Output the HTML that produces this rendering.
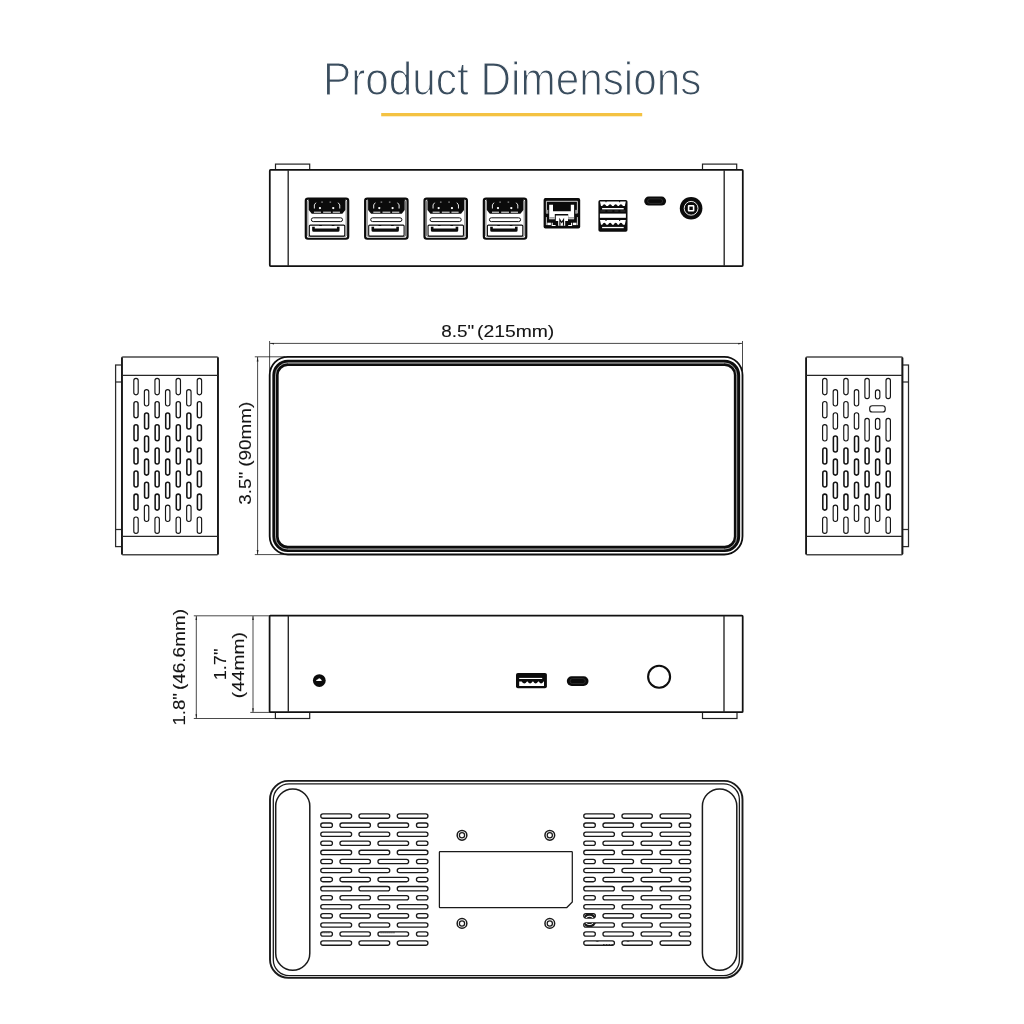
<!DOCTYPE html>
<html><head><meta charset="utf-8"><title>Product Dimensions</title>
<style>
html,body{margin:0;padding:0;background:#fff;}
body{width:1024px;height:1024px;overflow:hidden;font-family:"Liberation Sans",sans-serif;}
svg{display:block;position:absolute;left:0;top:0;will-change:transform;}
text{font-family:"Liberation Sans",sans-serif;}
</style></head><body>
<svg width="1024" height="1024" viewBox="0 0 1024 1024">
<rect width="1024" height="1024" fill="#fff"/>

<!-- title -->
<text id="title" x="323" y="94.6" font-size="45.4" fill="#3a4d5e" stroke="#fff" stroke-width="1.2" textLength="378.4" lengthAdjust="spacingAndGlyphs">Product Dimensions</text>
<rect x="381.2" y="113" width="261" height="3.3" fill="#f4c242"/>
<!-- rear view -->
<g fill="none" stroke="#111" stroke-width="1.6">
<rect x="275.5" y="164.1" width="34.2" height="6" fill="#fff" stroke="#222" stroke-width="1.2"/>
<rect x="702.5" y="164.1" width="34.2" height="6" fill="#fff" stroke="#222" stroke-width="1.2"/>
<rect x="269.8" y="169.9" width="473" height="96.2" rx="0.8" fill="#fff" stroke-width="1.75"/>
<line x1="288.2" y1="169.9" x2="288.2" y2="266.1" stroke="#2a2a2a" stroke-width="1.4"/>
<line x1="724.2" y1="169.9" x2="724.2" y2="266.1" stroke="#2a2a2a" stroke-width="1.4"/>
</g>
<g transform="translate(304.75,197.5)"><rect x="1.05" y="1.05" width="42.4" height="40.2" rx="2.2" fill="#fff" stroke="#0b0b0b" stroke-width="2.2"/><rect x="3.1" y="3" width="38.3" height="35.8" rx="0.8" fill="none" stroke="#0b0b0b" stroke-width="0.55"/><path d="M4 0.6 H40.6 V12.6 L37.6 16.2 H7 L4 12.6 Z" fill="#0b0b0b"/><path d="M9.6 11 V7.4 L11.2 5.2" fill="none" stroke="#fff" stroke-width="0.9"/><path d="M35 11 V7.4 L33.4 5.2" fill="none" stroke="#fff" stroke-width="0.9"/><path d="M16.5 4.6 h1.6 M24.8 4.6 h1.6" stroke="#bbb" stroke-width="0.9"/><path d="M9.2 14.7 H16.2 M18.4 14.7 H26.2 M28 14.7 H35.2" stroke="#fff" stroke-width="1"/><circle cx="15.2" cy="10.6" r="1.15" fill="#fff"/><circle cx="28.5" cy="10.6" r="1.15" fill="#fff"/><rect x="6.6" y="20.3" width="31.2" height="3.8" rx="1.9" fill="#fff" stroke="#0b0b0b" stroke-width="1"/><rect x="4.6" y="27.6" width="35.4" height="11" rx="1" fill="#fff" stroke="#0b0b0b" stroke-width="1.1"/><path d="M7.4 29.2 H10 V31 H32.2 V29.2 H34.8 V32.8 Q34.8 34.3 33.3 34.3 H8.9 Q7.4 34.3 7.4 32.8 Z" fill="#0b0b0b"/><path d="M14.5 28 h2.6 M27 28 h2.6" stroke="#0b0b0b" stroke-width="1"/></g>
<g transform="translate(364.10,197.5)"><rect x="1.05" y="1.05" width="42.4" height="40.2" rx="2.2" fill="#fff" stroke="#0b0b0b" stroke-width="2.2"/><rect x="3.1" y="3" width="38.3" height="35.8" rx="0.8" fill="none" stroke="#0b0b0b" stroke-width="0.55"/><path d="M4 0.6 H40.6 V12.6 L37.6 16.2 H7 L4 12.6 Z" fill="#0b0b0b"/><path d="M9.6 11 V7.4 L11.2 5.2" fill="none" stroke="#fff" stroke-width="0.9"/><path d="M35 11 V7.4 L33.4 5.2" fill="none" stroke="#fff" stroke-width="0.9"/><path d="M16.5 4.6 h1.6 M24.8 4.6 h1.6" stroke="#bbb" stroke-width="0.9"/><path d="M9.2 14.7 H16.2 M18.4 14.7 H26.2 M28 14.7 H35.2" stroke="#fff" stroke-width="1"/><circle cx="15.2" cy="10.6" r="1.15" fill="#fff"/><circle cx="28.5" cy="10.6" r="1.15" fill="#fff"/><rect x="6.6" y="20.3" width="31.2" height="3.8" rx="1.9" fill="#fff" stroke="#0b0b0b" stroke-width="1"/><rect x="4.6" y="27.6" width="35.4" height="11" rx="1" fill="#fff" stroke="#0b0b0b" stroke-width="1.1"/><path d="M7.4 29.2 H10 V31 H32.2 V29.2 H34.8 V32.8 Q34.8 34.3 33.3 34.3 H8.9 Q7.4 34.3 7.4 32.8 Z" fill="#0b0b0b"/><path d="M14.5 28 h2.6 M27 28 h2.6" stroke="#0b0b0b" stroke-width="1"/></g>
<g transform="translate(423.45,197.5)"><rect x="1.05" y="1.05" width="42.4" height="40.2" rx="2.2" fill="#fff" stroke="#0b0b0b" stroke-width="2.2"/><rect x="3.1" y="3" width="38.3" height="35.8" rx="0.8" fill="none" stroke="#0b0b0b" stroke-width="0.55"/><path d="M4 0.6 H40.6 V12.6 L37.6 16.2 H7 L4 12.6 Z" fill="#0b0b0b"/><path d="M9.6 11 V7.4 L11.2 5.2" fill="none" stroke="#fff" stroke-width="0.9"/><path d="M35 11 V7.4 L33.4 5.2" fill="none" stroke="#fff" stroke-width="0.9"/><path d="M16.5 4.6 h1.6 M24.8 4.6 h1.6" stroke="#bbb" stroke-width="0.9"/><path d="M9.2 14.7 H16.2 M18.4 14.7 H26.2 M28 14.7 H35.2" stroke="#fff" stroke-width="1"/><circle cx="15.2" cy="10.6" r="1.15" fill="#fff"/><circle cx="28.5" cy="10.6" r="1.15" fill="#fff"/><rect x="6.6" y="20.3" width="31.2" height="3.8" rx="1.9" fill="#fff" stroke="#0b0b0b" stroke-width="1"/><rect x="4.6" y="27.6" width="35.4" height="11" rx="1" fill="#fff" stroke="#0b0b0b" stroke-width="1.1"/><path d="M7.4 29.2 H10 V31 H32.2 V29.2 H34.8 V32.8 Q34.8 34.3 33.3 34.3 H8.9 Q7.4 34.3 7.4 32.8 Z" fill="#0b0b0b"/><path d="M14.5 28 h2.6 M27 28 h2.6" stroke="#0b0b0b" stroke-width="1"/></g>
<g transform="translate(482.80,197.5)"><rect x="1.05" y="1.05" width="42.4" height="40.2" rx="2.2" fill="#fff" stroke="#0b0b0b" stroke-width="2.2"/><rect x="3.1" y="3" width="38.3" height="35.8" rx="0.8" fill="none" stroke="#0b0b0b" stroke-width="0.55"/><path d="M4 0.6 H40.6 V12.6 L37.6 16.2 H7 L4 12.6 Z" fill="#0b0b0b"/><path d="M9.6 11 V7.4 L11.2 5.2" fill="none" stroke="#fff" stroke-width="0.9"/><path d="M35 11 V7.4 L33.4 5.2" fill="none" stroke="#fff" stroke-width="0.9"/><path d="M16.5 4.6 h1.6 M24.8 4.6 h1.6" stroke="#bbb" stroke-width="0.9"/><path d="M9.2 14.7 H16.2 M18.4 14.7 H26.2 M28 14.7 H35.2" stroke="#fff" stroke-width="1"/><circle cx="15.2" cy="10.6" r="1.15" fill="#fff"/><circle cx="28.5" cy="10.6" r="1.15" fill="#fff"/><rect x="6.6" y="20.3" width="31.2" height="3.8" rx="1.9" fill="#fff" stroke="#0b0b0b" stroke-width="1"/><rect x="4.6" y="27.6" width="35.4" height="11" rx="1" fill="#fff" stroke="#0b0b0b" stroke-width="1.1"/><path d="M7.4 29.2 H10 V31 H32.2 V29.2 H34.8 V32.8 Q34.8 34.3 33.3 34.3 H8.9 Q7.4 34.3 7.4 32.8 Z" fill="#0b0b0b"/><path d="M14.5 28 h2.6 M27 28 h2.6" stroke="#0b0b0b" stroke-width="1"/></g>
<g transform="translate(543.6,198.1)">
<rect x="0" y="0" width="36.6" height="30.5" rx="1.8" fill="#0b0b0b"/>
<path d="M2.8 15 V3.2 H33.8 V15" fill="none" stroke="#fff" stroke-width="0.8"/>
<path d="M2.8 19 V27" fill="none" stroke="#fff" stroke-width="0.8"/><path d="M33.8 19 V27" fill="none" stroke="#fff" stroke-width="0.8"/>
<path d="M5.6 6.6 H9.4 V13.2 H27.2 V6.6 H30.5 V21.2 H24.6 V16 H11.2 V21.2 H5.6 Z" fill="#fff"/>
<rect x="5.6" y="19" width="5.6" height="1.5" fill="#999"/><rect x="24.6" y="19" width="5.9" height="1.5" fill="#999"/>
<rect x="2.4" y="11.8" width="2.3" height="3.8" fill="#999"/><rect x="31.6" y="11.8" width="2.3" height="3.8" fill="#999"/>
<path d="M12.2 17.4 H24.4 V23 H21.6 V27.6 H14.6 V23 H12.2 Z" fill="#fff"/>
<path d="M16.3 27.6 V21.6 L18.1 24.4 L19.9 21.6 V27.6" fill="none" stroke="#0b0b0b" stroke-width="1.2"/>
<rect x="3.7" y="24.6" width="3.6" height="2.4" fill="#fff"/><rect x="29.3" y="24.6" width="3.6" height="2.4" fill="#fff"/>
<path d="M8.6 24.6 V27.4 H12 M28 24.6 V27.4 H24.6" fill="none" stroke="#fff" stroke-width="1.1"/>
</g>
<g transform="translate(598.4,200)">
<rect x="0" y="0" width="29.1" height="31.8" rx="1.8" fill="#0b0b0b"/>
<path d="M1.6 1.40 H27.4 L26.4 6.10 H24.60 Q22.50 2.20 20.40 6.10 H19.40 Q17.30 2.20 15.20 6.10 H13.80 Q11.70 2.20 9.60 6.10 H8.00 Q5.90 2.20 3.80 6.10 H2.6 Z" fill="#fff"/>
<rect x="7" y="1.2" width="1.2" height="1" fill="#0b0b0b"/><rect x="20.6" y="1.2" width="1.2" height="1" fill="#0b0b0b"/>
<rect x="3.7" y="8" width="21.6" height="1.4" fill="#fff"/>
<path d="M2 11 h5 M9 11 h5 M16 11 h4 M22 11 h5" stroke="#555" stroke-width="0.7"/>
<rect x="1.5" y="13.6" width="26" height="4.2" fill="#fff"/>
<path d="M1.6 20.10 H27.4 L26.4 24.80 H24.60 Q22.50 20.90 20.40 24.80 H19.40 Q17.30 20.90 15.20 24.80 H13.80 Q11.70 20.90 9.60 24.80 H8.00 Q5.90 20.90 3.80 24.80 H2.6 Z" fill="#fff"/>
<rect x="7" y="19.9" width="1.2" height="1" fill="#0b0b0b"/><rect x="20.6" y="19.9" width="1.2" height="1" fill="#0b0b0b"/>
<rect x="3.7" y="26.9" width="21.6" height="1.3" fill="#fff"/>
</g>
<rect x="644.2" y="196.6" width="21.9" height="9" rx="4.5" fill="#0b0b0b"/>
<rect x="647.6" y="198.8" width="15" height="4.6" rx="2.3" fill="none" stroke="#3a3a3a" stroke-width="0.7"/>
<circle cx="691.1" cy="208.3" r="11.3" fill="#0b0b0b"/>
<circle cx="691.1" cy="208.3" r="6.9" fill="none" stroke="#fff" stroke-width="0.9"/>
<rect x="687.8" y="205" width="6.6" height="6.6" rx="1" fill="#fff"/>
<rect x="689.4" y="206.6" width="3.4" height="3.4" fill="#0b0b0b"/>
<!-- top view -->
<rect x="269.7" y="356.9" width="472.8" height="197.6" rx="18.2" fill="#fff" stroke="#0d0d0d" stroke-width="1.8"/>
<rect x="275.5" y="362.8" width="461.5" height="186.1" rx="12.3" fill="#fff" stroke="#0d0d0d" stroke-width="6.3"/>
<rect x="275.5" y="362.9" width="461.2" height="186.2" rx="12.2" fill="none" stroke="#d8d8d8" stroke-width="0.75"/>
<path d="M288 362.95 H724 M288 549.2 H724" stroke="#7a7a7a" stroke-width="1.5" fill="none"/>
<g stroke="#1c1c1c" stroke-width="0.8" fill="#1c1c1c">
<line x1="269.6" y1="341" x2="269.6" y2="372"/>
<line x1="742.5" y1="341" x2="742.5" y2="372"/>
<line x1="270" y1="343.4" x2="742" y2="343.4"/>
<path d="M270.2 343.4 l3.8 -0.3 v1.5 z M742 343.4 l-3.8 -0.3 v1.5 z" stroke="none"/>
<line x1="254.8" y1="356.8" x2="285" y2="356.8"/>
<line x1="254.8" y1="554.6" x2="285" y2="554.6"/>
<line x1="257.6" y1="357" x2="257.6" y2="554.4"/>
<path d="M257.6 357 l-0.9 4.5 h1.8 z M257.6 554.4 l-0.9 -4.5 h1.8 z" stroke="none"/>
</g>
<text x="441.2" y="337.3" font-size="17" fill="#141414" stroke="#141414" stroke-width="0.1" textLength="33" lengthAdjust="spacingAndGlyphs">8.5"</text>
<text x="477" y="337.3" font-size="17" fill="#141414" stroke="#141414" stroke-width="0.1" textLength="77.3" lengthAdjust="spacingAndGlyphs">(215mm)</text>
<text transform="translate(251,504.8) rotate(-90)" font-size="17" fill="#141414" stroke="#141414" stroke-width="0.1" textLength="103" lengthAdjust="spacingAndGlyphs">3.5" (90mm)</text>
<!-- left side -->
<g fill="none" stroke="#151515" stroke-width="1.75"><rect x="115.60" y="365" width="6.35" height="181.6" fill="#fff" stroke="#2a2a2a" stroke-width="1.25"/><line x1="115.60" y1="382" x2="121.95" y2="382" stroke="#2a2a2a" stroke-width="1.25"/><line x1="115.60" y1="529.5" x2="121.95" y2="529.5" stroke="#2a2a2a" stroke-width="1.25"/><rect x="121.95" y="357" width="96.00" height="197.8" rx="1" fill="#fff" stroke="#4a4a4a" stroke-width="1.6"/><line x1="121.95" y1="357.6" x2="121.95" y2="554.2"/><line x1="217.95" y1="357.6" x2="217.95" y2="554.2"/><line x1="121.95" y1="375.4" x2="217.95" y2="375.4" stroke="#262626" stroke-width="1.3"/><line x1="121.95" y1="536.3" x2="217.95" y2="536.3" stroke="#262626" stroke-width="1.3"/></g>
<rect x="133.80" y="378.40" width="4.40" height="16.40" rx="2.20" fill="#fff" stroke="#141414" stroke-width="1.15"/>
<rect x="133.90" y="401.60" width="4.20" height="16.20" rx="2.10" fill="#fff" stroke="#141414" stroke-width="1.35"/>
<rect x="134.00" y="424.80" width="4.00" height="16.00" rx="2.00" fill="#fff" stroke="#141414" stroke-width="1.55"/>
<rect x="134.00" y="447.90" width="4.00" height="16.00" rx="2.00" fill="#fff" stroke="#141414" stroke-width="1.55"/>
<rect x="134.00" y="471.00" width="4.00" height="16.00" rx="2.00" fill="#fff" stroke="#141414" stroke-width="1.55"/>
<rect x="134.00" y="494.10" width="4.00" height="16.00" rx="2.00" fill="#fff" stroke="#141414" stroke-width="1.55"/>
<rect x="133.80" y="517.00" width="4.40" height="16.40" rx="2.20" fill="#fff" stroke="#141414" stroke-width="1.15"/>
<rect x="144.37" y="389.60" width="4.40" height="16.40" rx="2.20" fill="#fff" stroke="#141414" stroke-width="1.15"/>
<rect x="144.57" y="412.90" width="4.00" height="16.00" rx="2.00" fill="#fff" stroke="#141414" stroke-width="1.55"/>
<rect x="144.57" y="436.00" width="4.00" height="16.00" rx="2.00" fill="#fff" stroke="#141414" stroke-width="1.55"/>
<rect x="144.57" y="459.10" width="4.00" height="16.00" rx="2.00" fill="#fff" stroke="#141414" stroke-width="1.55"/>
<rect x="144.57" y="482.20" width="4.00" height="16.00" rx="2.00" fill="#fff" stroke="#141414" stroke-width="1.55"/>
<rect x="144.37" y="505.10" width="4.40" height="16.40" rx="2.20" fill="#fff" stroke="#141414" stroke-width="1.15"/>
<rect x="154.94" y="378.40" width="4.40" height="16.40" rx="2.20" fill="#fff" stroke="#141414" stroke-width="1.15"/>
<rect x="155.04" y="401.60" width="4.20" height="16.20" rx="2.10" fill="#fff" stroke="#141414" stroke-width="1.35"/>
<rect x="155.14" y="424.80" width="4.00" height="16.00" rx="2.00" fill="#fff" stroke="#141414" stroke-width="1.55"/>
<rect x="155.14" y="447.90" width="4.00" height="16.00" rx="2.00" fill="#fff" stroke="#141414" stroke-width="1.55"/>
<rect x="155.14" y="471.00" width="4.00" height="16.00" rx="2.00" fill="#fff" stroke="#141414" stroke-width="1.55"/>
<rect x="155.14" y="494.10" width="4.00" height="16.00" rx="2.00" fill="#fff" stroke="#141414" stroke-width="1.55"/>
<rect x="154.94" y="517.00" width="4.40" height="16.40" rx="2.20" fill="#fff" stroke="#141414" stroke-width="1.15"/>
<rect x="165.51" y="389.60" width="4.40" height="16.40" rx="2.20" fill="#fff" stroke="#141414" stroke-width="1.15"/>
<rect x="165.71" y="412.90" width="4.00" height="16.00" rx="2.00" fill="#fff" stroke="#141414" stroke-width="1.55"/>
<rect x="165.71" y="436.00" width="4.00" height="16.00" rx="2.00" fill="#fff" stroke="#141414" stroke-width="1.55"/>
<rect x="165.71" y="459.10" width="4.00" height="16.00" rx="2.00" fill="#fff" stroke="#141414" stroke-width="1.55"/>
<rect x="165.71" y="482.20" width="4.00" height="16.00" rx="2.00" fill="#fff" stroke="#141414" stroke-width="1.55"/>
<rect x="165.51" y="505.10" width="4.40" height="16.40" rx="2.20" fill="#fff" stroke="#141414" stroke-width="1.15"/>
<rect x="176.08" y="378.40" width="4.40" height="16.40" rx="2.20" fill="#fff" stroke="#141414" stroke-width="1.15"/>
<rect x="176.18" y="401.60" width="4.20" height="16.20" rx="2.10" fill="#fff" stroke="#141414" stroke-width="1.35"/>
<rect x="176.28" y="424.80" width="4.00" height="16.00" rx="2.00" fill="#fff" stroke="#141414" stroke-width="1.55"/>
<rect x="176.28" y="447.90" width="4.00" height="16.00" rx="2.00" fill="#fff" stroke="#141414" stroke-width="1.55"/>
<rect x="176.28" y="471.00" width="4.00" height="16.00" rx="2.00" fill="#fff" stroke="#141414" stroke-width="1.55"/>
<rect x="176.28" y="494.10" width="4.00" height="16.00" rx="2.00" fill="#fff" stroke="#141414" stroke-width="1.55"/>
<rect x="176.08" y="517.00" width="4.40" height="16.40" rx="2.20" fill="#fff" stroke="#141414" stroke-width="1.15"/>
<rect x="186.65" y="389.60" width="4.40" height="16.40" rx="2.20" fill="#fff" stroke="#141414" stroke-width="1.15"/>
<rect x="186.85" y="412.90" width="4.00" height="16.00" rx="2.00" fill="#fff" stroke="#141414" stroke-width="1.55"/>
<rect x="186.85" y="436.00" width="4.00" height="16.00" rx="2.00" fill="#fff" stroke="#141414" stroke-width="1.55"/>
<rect x="186.85" y="459.10" width="4.00" height="16.00" rx="2.00" fill="#fff" stroke="#141414" stroke-width="1.55"/>
<rect x="186.85" y="482.20" width="4.00" height="16.00" rx="2.00" fill="#fff" stroke="#141414" stroke-width="1.55"/>
<rect x="186.65" y="505.10" width="4.40" height="16.40" rx="2.20" fill="#fff" stroke="#141414" stroke-width="1.15"/>
<rect x="197.22" y="378.40" width="4.40" height="16.40" rx="2.20" fill="#fff" stroke="#141414" stroke-width="1.15"/>
<rect x="197.32" y="401.60" width="4.20" height="16.20" rx="2.10" fill="#fff" stroke="#141414" stroke-width="1.35"/>
<rect x="197.42" y="424.80" width="4.00" height="16.00" rx="2.00" fill="#fff" stroke="#141414" stroke-width="1.55"/>
<rect x="197.42" y="447.90" width="4.00" height="16.00" rx="2.00" fill="#fff" stroke="#141414" stroke-width="1.55"/>
<rect x="197.42" y="471.00" width="4.00" height="16.00" rx="2.00" fill="#fff" stroke="#141414" stroke-width="1.55"/>
<rect x="197.42" y="494.10" width="4.00" height="16.00" rx="2.00" fill="#fff" stroke="#141414" stroke-width="1.55"/>
<rect x="197.22" y="517.00" width="4.40" height="16.40" rx="2.20" fill="#fff" stroke="#141414" stroke-width="1.15"/>
<!-- right side -->
<g fill="none" stroke="#151515" stroke-width="1.75"><rect x="902.40" y="365" width="6.10" height="181.6" fill="#fff" stroke="#2a2a2a" stroke-width="1.25"/><line x1="902.40" y1="382" x2="908.50" y2="382" stroke="#2a2a2a" stroke-width="1.25"/><line x1="902.40" y1="529.5" x2="908.50" y2="529.5" stroke="#2a2a2a" stroke-width="1.25"/><rect x="806.15" y="357" width="96.25" height="197.8" rx="1" fill="#fff" stroke="#4a4a4a" stroke-width="1.6"/><line x1="806.15" y1="357.6" x2="806.15" y2="554.2"/><line x1="902.40" y1="357.6" x2="902.40" y2="554.2"/><line x1="806.15" y1="375.4" x2="902.40" y2="375.4" stroke="#262626" stroke-width="1.3"/><line x1="806.15" y1="536.3" x2="902.40" y2="536.3" stroke="#262626" stroke-width="1.3"/></g>
<rect x="822.60" y="378.40" width="4.40" height="16.40" rx="2.20" fill="#fff" stroke="#141414" stroke-width="1.15"/>
<rect x="822.60" y="401.50" width="4.40" height="16.40" rx="2.20" fill="#fff" stroke="#141414" stroke-width="1.15"/>
<rect x="822.60" y="424.60" width="4.40" height="16.40" rx="2.20" fill="#fff" stroke="#141414" stroke-width="1.15"/>
<rect x="822.80" y="447.90" width="4.00" height="16.00" rx="2.00" fill="#fff" stroke="#141414" stroke-width="1.55"/>
<rect x="822.80" y="471.00" width="4.00" height="16.00" rx="2.00" fill="#fff" stroke="#141414" stroke-width="1.55"/>
<rect x="822.80" y="494.10" width="4.00" height="16.00" rx="2.00" fill="#fff" stroke="#141414" stroke-width="1.55"/>
<rect x="822.60" y="517.00" width="4.40" height="16.40" rx="2.20" fill="#fff" stroke="#141414" stroke-width="1.15"/>
<rect x="833.17" y="389.60" width="4.40" height="16.40" rx="2.20" fill="#fff" stroke="#141414" stroke-width="1.15"/>
<rect x="833.17" y="412.70" width="4.40" height="16.40" rx="2.20" fill="#fff" stroke="#141414" stroke-width="1.15"/>
<rect x="833.37" y="436.00" width="4.00" height="16.00" rx="2.00" fill="#fff" stroke="#141414" stroke-width="1.55"/>
<rect x="833.37" y="459.10" width="4.00" height="16.00" rx="2.00" fill="#fff" stroke="#141414" stroke-width="1.55"/>
<rect x="833.37" y="482.20" width="4.00" height="16.00" rx="2.00" fill="#fff" stroke="#141414" stroke-width="1.55"/>
<rect x="833.17" y="505.10" width="4.40" height="16.40" rx="2.20" fill="#fff" stroke="#141414" stroke-width="1.15"/>
<rect x="843.74" y="378.40" width="4.40" height="16.40" rx="2.20" fill="#fff" stroke="#141414" stroke-width="1.15"/>
<rect x="843.74" y="401.50" width="4.40" height="16.40" rx="2.20" fill="#fff" stroke="#141414" stroke-width="1.15"/>
<rect x="843.74" y="424.60" width="4.40" height="16.40" rx="2.20" fill="#fff" stroke="#141414" stroke-width="1.15"/>
<rect x="843.94" y="447.90" width="4.00" height="16.00" rx="2.00" fill="#fff" stroke="#141414" stroke-width="1.55"/>
<rect x="843.94" y="471.00" width="4.00" height="16.00" rx="2.00" fill="#fff" stroke="#141414" stroke-width="1.55"/>
<rect x="843.94" y="494.10" width="4.00" height="16.00" rx="2.00" fill="#fff" stroke="#141414" stroke-width="1.55"/>
<rect x="843.74" y="517.00" width="4.40" height="16.40" rx="2.20" fill="#fff" stroke="#141414" stroke-width="1.15"/>
<rect x="854.31" y="389.60" width="4.40" height="16.40" rx="2.20" fill="#fff" stroke="#141414" stroke-width="1.15"/>
<rect x="854.31" y="412.70" width="4.40" height="16.40" rx="2.20" fill="#fff" stroke="#141414" stroke-width="1.15"/>
<rect x="854.51" y="436.00" width="4.00" height="16.00" rx="2.00" fill="#fff" stroke="#141414" stroke-width="1.55"/>
<rect x="854.51" y="459.10" width="4.00" height="16.00" rx="2.00" fill="#fff" stroke="#141414" stroke-width="1.55"/>
<rect x="854.51" y="482.20" width="4.00" height="16.00" rx="2.00" fill="#fff" stroke="#141414" stroke-width="1.55"/>
<rect x="854.31" y="505.10" width="4.40" height="16.40" rx="2.20" fill="#fff" stroke="#141414" stroke-width="1.15"/>
<rect x="864.88" y="378.40" width="4.40" height="20.20" rx="2.20" fill="#fff" stroke="#141414" stroke-width="1.15"/>
<rect x="864.88" y="418.40" width="4.40" height="22.80" rx="2.20" fill="#fff" stroke="#141414" stroke-width="1.15"/>
<rect x="865.08" y="447.90" width="4.00" height="16.00" rx="2.00" fill="#fff" stroke="#141414" stroke-width="1.55"/>
<rect x="865.08" y="471.00" width="4.00" height="16.00" rx="2.00" fill="#fff" stroke="#141414" stroke-width="1.55"/>
<rect x="865.08" y="494.10" width="4.00" height="16.00" rx="2.00" fill="#fff" stroke="#141414" stroke-width="1.55"/>
<rect x="864.88" y="517.00" width="4.40" height="16.40" rx="2.20" fill="#fff" stroke="#141414" stroke-width="1.15"/>
<rect x="875.45" y="389.80" width="4.40" height="9.20" rx="2.20" fill="#fff" stroke="#141414" stroke-width="1.15"/>
<rect x="875.45" y="418.40" width="4.40" height="11.00" rx="2.20" fill="#fff" stroke="#141414" stroke-width="1.15"/>
<rect x="875.65" y="436.00" width="4.00" height="16.00" rx="2.00" fill="#fff" stroke="#141414" stroke-width="1.55"/>
<rect x="875.65" y="459.10" width="4.00" height="16.00" rx="2.00" fill="#fff" stroke="#141414" stroke-width="1.55"/>
<rect x="875.65" y="482.20" width="4.00" height="16.00" rx="2.00" fill="#fff" stroke="#141414" stroke-width="1.55"/>
<rect x="875.45" y="505.10" width="4.40" height="16.40" rx="2.20" fill="#fff" stroke="#141414" stroke-width="1.15"/>
<rect x="886.02" y="378.40" width="4.40" height="20.20" rx="2.20" fill="#fff" stroke="#141414" stroke-width="1.15"/>
<rect x="886.02" y="418.40" width="4.40" height="22.80" rx="2.20" fill="#fff" stroke="#141414" stroke-width="1.15"/>
<rect x="886.22" y="447.90" width="4.00" height="16.00" rx="2.00" fill="#fff" stroke="#141414" stroke-width="1.55"/>
<rect x="886.22" y="471.00" width="4.00" height="16.00" rx="2.00" fill="#fff" stroke="#141414" stroke-width="1.55"/>
<rect x="886.22" y="494.10" width="4.00" height="16.00" rx="2.00" fill="#fff" stroke="#141414" stroke-width="1.55"/>
<rect x="886.02" y="517.00" width="4.40" height="16.40" rx="2.20" fill="#fff" stroke="#141414" stroke-width="1.15"/>
<rect x="869.7" y="405.7" width="15.5" height="6.3" rx="2.6" fill="#fff" stroke="#141414" stroke-width="1.15"/>
<!-- front view -->
<g fill="none" stroke="#111" stroke-width="1.6">
<rect x="275.4" y="712.2" width="34.3" height="6.3" fill="#fff" stroke="#222" stroke-width="1.2"/>
<rect x="702.5" y="712.2" width="34.5" height="6.3" fill="#fff" stroke="#222" stroke-width="1.2"/>
<rect x="269.6" y="615.7" width="473.1" height="96.5" rx="0.8" fill="#fff" stroke-width="1.75"/>
<line x1="288.3" y1="615.7" x2="288.3" y2="712.2" stroke="#2a2a2a" stroke-width="1.4"/>
<line x1="724" y1="615.7" x2="724" y2="712.2" stroke="#2a2a2a" stroke-width="1.4"/>
</g>
<circle cx="319.3" cy="680.55" r="6.4" fill="#0b0b0b"/>
<path d="M316 681 Q316.4 679.6 318 679.3 Q319 677.6 320.3 678.7 Q321.6 679.6 321.8 681 Z" fill="#fff"/>
<g transform="translate(516,672.9)">
<rect x="0" y="0" width="30.9" height="15.3" rx="1.9" fill="#0b0b0b"/>
<rect x="3.2" y="5" width="23" height="1.1" fill="#fff"/>
<path d="M3.2 13.1 V8.6 H5.6 Q8.4 12.6 11.0 8.6 H11.6 Q14.0 12.6 16.6 8.6 H17.2 Q19.6 12.6 22.2 8.6 H22.8 Q25.0 12.6 27.6 8.6 H28 V13.1 Z" fill="#fff"/>
</g>
<rect x="566.8" y="676.2" width="21.7" height="9.8" rx="4.9" fill="#0b0b0b"/>
<rect x="570" y="678.6" width="15.3" height="5" rx="2.5" fill="none" stroke="#3a3a3a" stroke-width="0.7"/>
<circle cx="659.1" cy="676.7" r="11" fill="#fff" stroke="#0d0d0d" stroke-width="2.1"/>
<g stroke="#1c1c1c" stroke-width="0.8" fill="#1c1c1c">
<line x1="193.8" y1="615.8" x2="269.6" y2="615.8"/>
<line x1="193.8" y1="718.5" x2="275.5" y2="718.5"/>
<line x1="196.3" y1="616" x2="196.3" y2="718.3"/>
<path d="M196.3 616 l-0.8 4 h1.6 z M196.3 718.3 l-0.8 -4 h1.6 z" stroke="none"/>
<line x1="250.3" y1="712.4" x2="269.6" y2="712.4"/>
<line x1="253" y1="616" x2="253" y2="712.2"/>
<path d="M253 616 l-0.8 4 h1.6 z M253 712.2 l-0.8 -4 h1.6 z" stroke="none"/>
</g>
<text transform="translate(185,725.6) rotate(-90)" font-size="17" fill="#141414" stroke="#141414" stroke-width="0.1" textLength="32.6" lengthAdjust="spacingAndGlyphs">1.8"</text>
<text transform="translate(185,690) rotate(-90)" font-size="17" fill="#141414" stroke="#141414" stroke-width="0.1" textLength="81" lengthAdjust="spacingAndGlyphs">(46.6mm)</text>
<text transform="translate(226.2,680.2) rotate(-90)" font-size="17" fill="#141414" stroke="#141414" stroke-width="0.1" textLength="31.5" lengthAdjust="spacingAndGlyphs">1.7"</text>
<text transform="translate(243.6,698.2) rotate(-90)" font-size="17" fill="#141414" stroke="#141414" stroke-width="0.1" textLength="66" lengthAdjust="spacingAndGlyphs">(44mm)</text>
<!-- bottom view -->
<rect x="270" y="780.9" width="472.5" height="197" rx="18.5" fill="#fff" stroke="#1a1a1a" stroke-width="1.9"/>
<rect x="273.3" y="783.8" width="466.1" height="191.8" rx="15.8" fill="#fff" stroke="#1a1a1a" stroke-width="1.3"/>
<rect x="275.7" y="789" width="34.1" height="181.3" rx="17.05" fill="#fff" stroke="#1a1a1a" stroke-width="1.5"/>
<rect x="702.4" y="789" width="34.4" height="181.3" rx="17.2" fill="#fff" stroke="#1a1a1a" stroke-width="1.5"/>
<path d="M439.4 852.2 Q439.4 851.6 440 851.6 H571.7 Q572.3 851.6 572.3 852.2 V902 L566.8 907.5 H440 Q439.4 907.5 439.4 906.9 Z" fill="#fff" stroke="#1a1a1a" stroke-width="1.25"/>
<circle cx="462" cy="835.3" r="4.85" fill="#fff" stroke="#1a1a1a" stroke-width="1.5"/>
<circle cx="462" cy="835.3" r="2.6" fill="#fff" stroke="#1a1a1a" stroke-width="1.25"/>
<circle cx="462" cy="923.4" r="4.85" fill="#fff" stroke="#1a1a1a" stroke-width="1.5"/>
<circle cx="462" cy="923.4" r="2.6" fill="#fff" stroke="#1a1a1a" stroke-width="1.25"/>
<circle cx="549.8" cy="835.3" r="4.85" fill="#fff" stroke="#1a1a1a" stroke-width="1.5"/>
<circle cx="549.8" cy="835.3" r="2.6" fill="#fff" stroke="#1a1a1a" stroke-width="1.25"/>
<circle cx="549.8" cy="923.4" r="4.85" fill="#fff" stroke="#1a1a1a" stroke-width="1.5"/>
<circle cx="549.8" cy="923.4" r="2.6" fill="#fff" stroke="#1a1a1a" stroke-width="1.25"/>
<rect x="320.75" y="813.95" width="30.90" height="4.30" rx="2.15" fill="#fff" stroke="#1a1a1a" stroke-width="1.3"/>
<rect x="358.95" y="813.95" width="30.80" height="4.30" rx="2.15" fill="#fff" stroke="#1a1a1a" stroke-width="1.3"/>
<rect x="397.25" y="813.95" width="30.70" height="4.30" rx="2.15" fill="#fff" stroke="#1a1a1a" stroke-width="1.3"/>
<rect x="320.75" y="823.02" width="11.70" height="4.30" rx="2.15" fill="#fff" stroke="#1a1a1a" stroke-width="1.3"/>
<rect x="339.95" y="823.02" width="30.50" height="4.30" rx="2.15" fill="#fff" stroke="#1a1a1a" stroke-width="1.3"/>
<rect x="377.95" y="823.02" width="30.70" height="4.30" rx="2.15" fill="#fff" stroke="#1a1a1a" stroke-width="1.3"/>
<rect x="416.45" y="823.02" width="11.50" height="4.30" rx="2.15" fill="#fff" stroke="#1a1a1a" stroke-width="1.3"/>
<rect x="320.75" y="832.09" width="30.90" height="4.30" rx="2.15" fill="#fff" stroke="#1a1a1a" stroke-width="1.3"/>
<rect x="358.95" y="832.09" width="30.80" height="4.30" rx="2.15" fill="#fff" stroke="#1a1a1a" stroke-width="1.3"/>
<rect x="397.25" y="832.09" width="30.70" height="4.30" rx="2.15" fill="#fff" stroke="#1a1a1a" stroke-width="1.3"/>
<rect x="320.75" y="841.16" width="11.70" height="4.30" rx="2.15" fill="#fff" stroke="#1a1a1a" stroke-width="1.3"/>
<rect x="339.95" y="841.16" width="30.50" height="4.30" rx="2.15" fill="#fff" stroke="#1a1a1a" stroke-width="1.3"/>
<rect x="377.95" y="841.16" width="30.70" height="4.30" rx="2.15" fill="#fff" stroke="#1a1a1a" stroke-width="1.3"/>
<rect x="416.45" y="841.16" width="11.50" height="4.30" rx="2.15" fill="#fff" stroke="#1a1a1a" stroke-width="1.3"/>
<rect x="320.75" y="850.23" width="30.90" height="4.30" rx="2.15" fill="#fff" stroke="#1a1a1a" stroke-width="1.3"/>
<rect x="358.95" y="850.23" width="30.80" height="4.30" rx="2.15" fill="#fff" stroke="#1a1a1a" stroke-width="1.3"/>
<rect x="397.25" y="850.23" width="30.70" height="4.30" rx="2.15" fill="#fff" stroke="#1a1a1a" stroke-width="1.3"/>
<rect x="320.75" y="859.30" width="11.70" height="4.30" rx="2.15" fill="#fff" stroke="#1a1a1a" stroke-width="1.3"/>
<rect x="339.95" y="859.30" width="30.50" height="4.30" rx="2.15" fill="#fff" stroke="#1a1a1a" stroke-width="1.3"/>
<rect x="377.95" y="859.30" width="30.70" height="4.30" rx="2.15" fill="#fff" stroke="#1a1a1a" stroke-width="1.3"/>
<rect x="416.45" y="859.30" width="11.50" height="4.30" rx="2.15" fill="#fff" stroke="#1a1a1a" stroke-width="1.3"/>
<rect x="320.75" y="868.37" width="30.90" height="4.30" rx="2.15" fill="#fff" stroke="#1a1a1a" stroke-width="1.3"/>
<rect x="358.95" y="868.37" width="30.80" height="4.30" rx="2.15" fill="#fff" stroke="#1a1a1a" stroke-width="1.3"/>
<rect x="397.25" y="868.37" width="30.70" height="4.30" rx="2.15" fill="#fff" stroke="#1a1a1a" stroke-width="1.3"/>
<rect x="320.75" y="877.44" width="11.70" height="4.30" rx="2.15" fill="#fff" stroke="#1a1a1a" stroke-width="1.3"/>
<rect x="339.95" y="877.44" width="30.50" height="4.30" rx="2.15" fill="#fff" stroke="#1a1a1a" stroke-width="1.3"/>
<rect x="377.95" y="877.44" width="30.70" height="4.30" rx="2.15" fill="#fff" stroke="#1a1a1a" stroke-width="1.3"/>
<rect x="416.45" y="877.44" width="11.50" height="4.30" rx="2.15" fill="#fff" stroke="#1a1a1a" stroke-width="1.3"/>
<rect x="320.75" y="886.51" width="30.90" height="4.30" rx="2.15" fill="#fff" stroke="#1a1a1a" stroke-width="1.3"/>
<rect x="358.95" y="886.51" width="30.80" height="4.30" rx="2.15" fill="#fff" stroke="#1a1a1a" stroke-width="1.3"/>
<rect x="397.25" y="886.51" width="30.70" height="4.30" rx="2.15" fill="#fff" stroke="#1a1a1a" stroke-width="1.3"/>
<rect x="320.75" y="895.58" width="11.70" height="4.30" rx="2.15" fill="#fff" stroke="#1a1a1a" stroke-width="1.3"/>
<rect x="339.95" y="895.58" width="30.50" height="4.30" rx="2.15" fill="#fff" stroke="#1a1a1a" stroke-width="1.3"/>
<rect x="377.95" y="895.58" width="30.70" height="4.30" rx="2.15" fill="#fff" stroke="#1a1a1a" stroke-width="1.3"/>
<rect x="416.45" y="895.58" width="11.50" height="4.30" rx="2.15" fill="#fff" stroke="#1a1a1a" stroke-width="1.3"/>
<rect x="320.75" y="904.65" width="30.90" height="4.30" rx="2.15" fill="#fff" stroke="#1a1a1a" stroke-width="1.3"/>
<rect x="358.95" y="904.65" width="30.80" height="4.30" rx="2.15" fill="#fff" stroke="#1a1a1a" stroke-width="1.3"/>
<rect x="397.25" y="904.65" width="30.70" height="4.30" rx="2.15" fill="#fff" stroke="#1a1a1a" stroke-width="1.3"/>
<rect x="320.75" y="913.72" width="11.70" height="4.30" rx="2.15" fill="#fff" stroke="#1a1a1a" stroke-width="1.3"/>
<rect x="339.95" y="913.72" width="30.50" height="4.30" rx="2.15" fill="#fff" stroke="#1a1a1a" stroke-width="1.3"/>
<rect x="377.95" y="913.72" width="30.70" height="4.30" rx="2.15" fill="#fff" stroke="#1a1a1a" stroke-width="1.3"/>
<rect x="416.45" y="913.72" width="11.50" height="4.30" rx="2.15" fill="#fff" stroke="#1a1a1a" stroke-width="1.3"/>
<rect x="320.75" y="922.79" width="30.90" height="4.30" rx="2.15" fill="#fff" stroke="#1a1a1a" stroke-width="1.3"/>
<rect x="358.95" y="922.79" width="30.80" height="4.30" rx="2.15" fill="#fff" stroke="#1a1a1a" stroke-width="1.3"/>
<rect x="397.25" y="922.79" width="30.70" height="4.30" rx="2.15" fill="#fff" stroke="#1a1a1a" stroke-width="1.3"/>
<rect x="320.75" y="931.86" width="11.70" height="4.30" rx="2.15" fill="#fff" stroke="#1a1a1a" stroke-width="1.3"/>
<rect x="339.95" y="931.86" width="30.50" height="4.30" rx="2.15" fill="#fff" stroke="#1a1a1a" stroke-width="1.3"/>
<rect x="377.95" y="931.86" width="30.70" height="4.30" rx="2.15" fill="#fff" stroke="#1a1a1a" stroke-width="1.3"/>
<rect x="416.45" y="931.86" width="11.50" height="4.30" rx="2.15" fill="#fff" stroke="#1a1a1a" stroke-width="1.3"/>
<rect x="320.75" y="940.93" width="30.90" height="4.30" rx="2.15" fill="#fff" stroke="#1a1a1a" stroke-width="1.3"/>
<rect x="358.95" y="940.93" width="30.80" height="4.30" rx="2.15" fill="#fff" stroke="#1a1a1a" stroke-width="1.3"/>
<rect x="397.25" y="940.93" width="30.70" height="4.30" rx="2.15" fill="#fff" stroke="#1a1a1a" stroke-width="1.3"/>
<rect x="583.75" y="813.95" width="30.70" height="4.30" rx="2.15" fill="#fff" stroke="#1a1a1a" stroke-width="1.3"/>
<rect x="621.95" y="813.95" width="30.40" height="4.30" rx="2.15" fill="#fff" stroke="#1a1a1a" stroke-width="1.3"/>
<rect x="660.05" y="813.95" width="30.70" height="4.30" rx="2.15" fill="#fff" stroke="#1a1a1a" stroke-width="1.3"/>
<rect x="583.75" y="823.02" width="11.60" height="4.30" rx="2.15" fill="#fff" stroke="#1a1a1a" stroke-width="1.3"/>
<rect x="602.95" y="823.02" width="30.60" height="4.30" rx="2.15" fill="#fff" stroke="#1a1a1a" stroke-width="1.3"/>
<rect x="641.05" y="823.02" width="30.60" height="4.30" rx="2.15" fill="#fff" stroke="#1a1a1a" stroke-width="1.3"/>
<rect x="679.15" y="823.02" width="11.60" height="4.30" rx="2.15" fill="#fff" stroke="#1a1a1a" stroke-width="1.3"/>
<rect x="583.75" y="832.09" width="30.70" height="4.30" rx="2.15" fill="#fff" stroke="#1a1a1a" stroke-width="1.3"/>
<rect x="621.95" y="832.09" width="30.40" height="4.30" rx="2.15" fill="#fff" stroke="#1a1a1a" stroke-width="1.3"/>
<rect x="660.05" y="832.09" width="30.70" height="4.30" rx="2.15" fill="#fff" stroke="#1a1a1a" stroke-width="1.3"/>
<rect x="583.75" y="841.16" width="11.60" height="4.30" rx="2.15" fill="#fff" stroke="#1a1a1a" stroke-width="1.3"/>
<rect x="602.95" y="841.16" width="30.60" height="4.30" rx="2.15" fill="#fff" stroke="#1a1a1a" stroke-width="1.3"/>
<rect x="641.05" y="841.16" width="30.60" height="4.30" rx="2.15" fill="#fff" stroke="#1a1a1a" stroke-width="1.3"/>
<rect x="679.15" y="841.16" width="11.60" height="4.30" rx="2.15" fill="#fff" stroke="#1a1a1a" stroke-width="1.3"/>
<rect x="583.75" y="850.23" width="30.70" height="4.30" rx="2.15" fill="#fff" stroke="#1a1a1a" stroke-width="1.3"/>
<rect x="621.95" y="850.23" width="30.40" height="4.30" rx="2.15" fill="#fff" stroke="#1a1a1a" stroke-width="1.3"/>
<rect x="660.05" y="850.23" width="30.70" height="4.30" rx="2.15" fill="#fff" stroke="#1a1a1a" stroke-width="1.3"/>
<rect x="583.75" y="859.30" width="11.60" height="4.30" rx="2.15" fill="#fff" stroke="#1a1a1a" stroke-width="1.3"/>
<rect x="602.95" y="859.30" width="30.60" height="4.30" rx="2.15" fill="#fff" stroke="#1a1a1a" stroke-width="1.3"/>
<rect x="641.05" y="859.30" width="30.60" height="4.30" rx="2.15" fill="#fff" stroke="#1a1a1a" stroke-width="1.3"/>
<rect x="679.15" y="859.30" width="11.60" height="4.30" rx="2.15" fill="#fff" stroke="#1a1a1a" stroke-width="1.3"/>
<rect x="583.75" y="868.37" width="30.70" height="4.30" rx="2.15" fill="#fff" stroke="#1a1a1a" stroke-width="1.3"/>
<rect x="621.95" y="868.37" width="30.40" height="4.30" rx="2.15" fill="#fff" stroke="#1a1a1a" stroke-width="1.3"/>
<rect x="660.05" y="868.37" width="30.70" height="4.30" rx="2.15" fill="#fff" stroke="#1a1a1a" stroke-width="1.3"/>
<rect x="583.75" y="877.44" width="11.60" height="4.30" rx="2.15" fill="#fff" stroke="#1a1a1a" stroke-width="1.3"/>
<rect x="602.95" y="877.44" width="30.60" height="4.30" rx="2.15" fill="#fff" stroke="#1a1a1a" stroke-width="1.3"/>
<rect x="641.05" y="877.44" width="30.60" height="4.30" rx="2.15" fill="#fff" stroke="#1a1a1a" stroke-width="1.3"/>
<rect x="679.15" y="877.44" width="11.60" height="4.30" rx="2.15" fill="#fff" stroke="#1a1a1a" stroke-width="1.3"/>
<rect x="583.75" y="886.51" width="30.70" height="4.30" rx="2.15" fill="#fff" stroke="#1a1a1a" stroke-width="1.3"/>
<rect x="621.95" y="886.51" width="30.40" height="4.30" rx="2.15" fill="#fff" stroke="#1a1a1a" stroke-width="1.3"/>
<rect x="660.05" y="886.51" width="30.70" height="4.30" rx="2.15" fill="#fff" stroke="#1a1a1a" stroke-width="1.3"/>
<rect x="583.75" y="895.58" width="11.60" height="4.30" rx="2.15" fill="#fff" stroke="#1a1a1a" stroke-width="1.3"/>
<rect x="602.95" y="895.58" width="30.60" height="4.30" rx="2.15" fill="#fff" stroke="#1a1a1a" stroke-width="1.3"/>
<rect x="641.05" y="895.58" width="30.60" height="4.30" rx="2.15" fill="#fff" stroke="#1a1a1a" stroke-width="1.3"/>
<rect x="679.15" y="895.58" width="11.60" height="4.30" rx="2.15" fill="#fff" stroke="#1a1a1a" stroke-width="1.3"/>
<rect x="583.75" y="904.65" width="30.70" height="4.30" rx="2.15" fill="#fff" stroke="#1a1a1a" stroke-width="1.3"/>
<rect x="621.95" y="904.65" width="30.40" height="4.30" rx="2.15" fill="#fff" stroke="#1a1a1a" stroke-width="1.3"/>
<rect x="660.05" y="904.65" width="30.70" height="4.30" rx="2.15" fill="#fff" stroke="#1a1a1a" stroke-width="1.3"/>
<rect x="583.75" y="913.72" width="11.60" height="4.30" rx="2.15" fill="#fff" stroke="#1a1a1a" stroke-width="1.3"/>
<rect x="602.95" y="913.72" width="30.60" height="4.30" rx="2.15" fill="#fff" stroke="#1a1a1a" stroke-width="1.3"/>
<rect x="641.05" y="913.72" width="30.60" height="4.30" rx="2.15" fill="#fff" stroke="#1a1a1a" stroke-width="1.3"/>
<rect x="679.15" y="913.72" width="11.60" height="4.30" rx="2.15" fill="#fff" stroke="#1a1a1a" stroke-width="1.3"/>
<rect x="583.75" y="922.79" width="30.70" height="4.30" rx="2.15" fill="#fff" stroke="#1a1a1a" stroke-width="1.3"/>
<rect x="621.95" y="922.79" width="30.40" height="4.30" rx="2.15" fill="#fff" stroke="#1a1a1a" stroke-width="1.3"/>
<rect x="660.05" y="922.79" width="30.70" height="4.30" rx="2.15" fill="#fff" stroke="#1a1a1a" stroke-width="1.3"/>
<rect x="583.75" y="931.86" width="11.60" height="4.30" rx="2.15" fill="#fff" stroke="#1a1a1a" stroke-width="1.3"/>
<rect x="602.95" y="931.86" width="30.60" height="4.30" rx="2.15" fill="#fff" stroke="#1a1a1a" stroke-width="1.3"/>
<rect x="641.05" y="931.86" width="30.60" height="4.30" rx="2.15" fill="#fff" stroke="#1a1a1a" stroke-width="1.3"/>
<rect x="679.15" y="931.86" width="11.60" height="4.30" rx="2.15" fill="#fff" stroke="#1a1a1a" stroke-width="1.3"/>
<rect x="583.75" y="940.93" width="30.70" height="4.30" rx="2.15" fill="#fff" stroke="#1a1a1a" stroke-width="1.3"/>
<rect x="621.95" y="940.93" width="30.40" height="4.30" rx="2.15" fill="#fff" stroke="#1a1a1a" stroke-width="1.3"/>
<rect x="660.05" y="940.93" width="30.70" height="4.30" rx="2.15" fill="#fff" stroke="#1a1a1a" stroke-width="1.3"/>
<path d="M322.3 932.8 H330.2 M380.4 932.8 H395" stroke="#222" stroke-width="1.1" stroke-dasharray="1.3 0.7" fill="none"/>
<defs><clipPath id="sc"><rect x="584.4" y="913.9" width="10.9" height="4" rx="2"/><rect x="584.4" y="922.9" width="30" height="4" rx="2"/></clipPath></defs>
<g clip-path="url(#sc)"><circle cx="589.5" cy="920.4" r="7" fill="#1a1a1a"/><circle cx="589.5" cy="920.4" r="4.7" fill="#fff"/><circle cx="589.5" cy="920.4" r="3.6" fill="#1a1a1a"/><circle cx="589.5" cy="920.4" r="2.2" fill="#fff"/></g>
<path d="M595.5 941 q1.8 1.6 3.6 0 z M626.2 941 q1.8 1.6 3.6 0 z" fill="#222"/>
<path d="M603 944.6 H613" stroke="#222" stroke-width="0.9" stroke-dasharray="1.6 1.2" fill="none"/>
</svg></body></html>
